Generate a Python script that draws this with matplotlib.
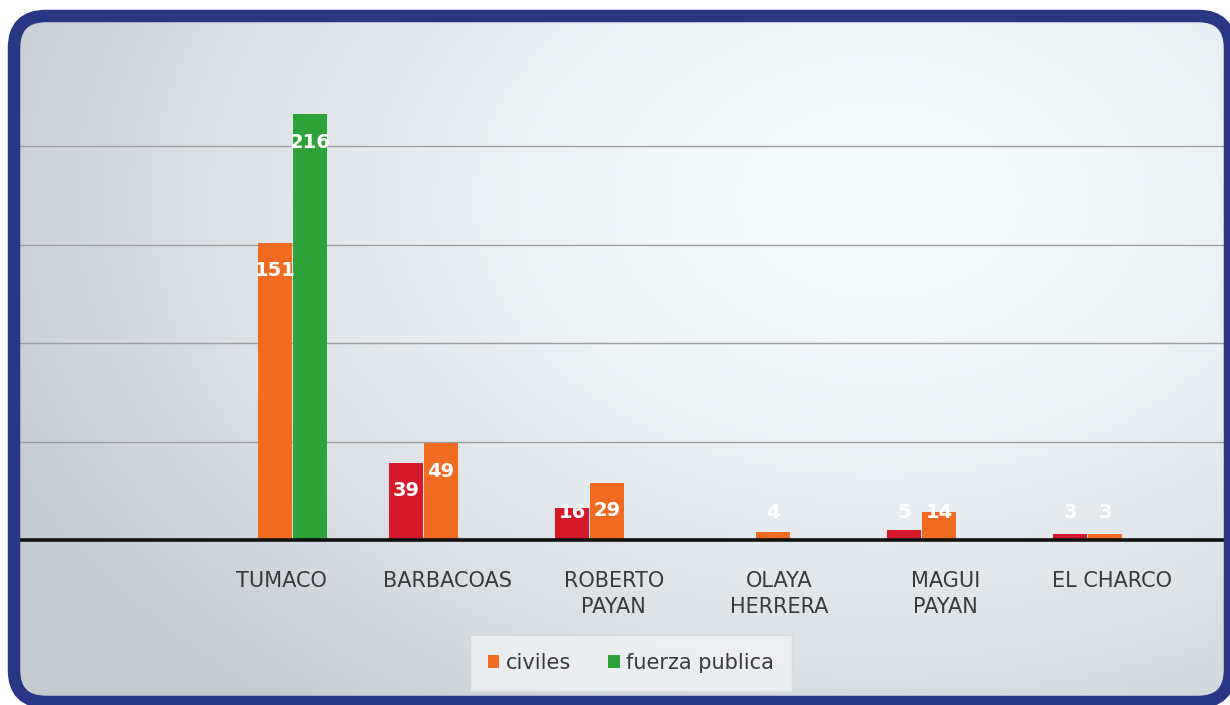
import numpy as np
import matplotlib
matplotlib.use("Agg")
import matplotlib.pyplot as plt
from matplotlib.patches import FancyBboxPatch, Patch

# datos
municipios = ["TUMACO", "BARBACOAS", "ROBERTO\nPAYAN", "OLAYA\nHERRERA", "MAGUI\nPAYAN", "EL CHARCO"]
serie_roja = [np.nan, 39, 16, np.nan, 5, 3]
civiles = [151, 49, 29, 4, 14, 3]
fuerza_publica = [216, np.nan, np.nan, np.nan, np.nan, np.nan]

ROJO = "#D5192B"
NARANJA = "#F06A22"
VERDE = "#2EA33A"
AZUL = "#283683"

W, H = 1230, 705
fig = plt.figure(figsize=(W / 100, H / 100), dpi=100)
fig.patch.set_facecolor("white")

# fondo con degradado
bg = fig.add_axes([0, 0, 1, 1], zorder=0)
bg.set_xlim(0, W)
bg.set_ylim(H, 0)
bg.axis("off")
xx, yy = np.meshgrid(np.linspace(0, W, 300), np.linspace(0, H, 200))
d = np.sqrt(((xx - 880) / 950) ** 2 + ((yy - 200) / 650) ** 2)
d = np.clip(d, 0, 1) ** 1.6
claro = np.array([0.965, 0.985, 0.997])
oscuro = np.array([0.775, 0.80, 0.82])
img = claro[None, None, :] * (1 - d[..., None]) + oscuro[None, None, :] * d[..., None]
marco_clip = FancyBboxPatch((14, 16), 1216, 686, boxstyle="round,pad=0,rounding_size=32",
                            facecolor="none", edgecolor="none")
bg.add_patch(marco_clip)
im = bg.imshow(img, extent=(0, W, H, 0), aspect="auto", interpolation="bilinear")
im.set_clip_path(marco_clip)

# grafico
px_per_grupo = 166
centro0 = 275
ax_left, ax_right = 20, 1225
y0_px, ytop_px = 540, 47.5
ax = fig.add_axes([ax_left / W, (H - y0_px) / H, (ax_right - ax_left) / W, (y0_px - ytop_px) / H], zorder=1)
ax.set_facecolor("none")
ax.set_xlim((ax_left - centro0) / px_per_grupo, (ax_right - centro0) / px_per_grupo)
ax.set_ylim(0, 250)

x = np.arange(len(municipios))
ancho = 35 / px_per_grupo
series = [(serie_roja, ROJO, -ancho), (civiles, NARANJA, 0), (fuerza_publica, VERDE, ancho)]
for valores, color, off in series:
    ax.bar(x + off, valores, width=ancho * 0.98, color=color, zorder=2)
    for xi, v in zip(x, valores):
        if np.isnan(v):
            continue
        ypos = max(v - 14, 14)
        ax.text(xi + off, ypos, f"{v:g}", ha="center", va="center", color="white",
                fontsize=14, fontweight="bold", zorder=3)

ax.set_yticks([50, 100, 150, 200])
ax.yaxis.grid(True, color="#9C9FA2", linewidth=1)
ax.set_axisbelow(True)
ax.tick_params(left=False, labelleft=False, bottom=False, pad=19)
# etiquetas un poco a la derecha, como en el original
ax.set_xticks(x + 0.04)
ax.set_xticklabels(municipios, fontsize=15, color="#3A3A3A", family="DejaVu Sans", linespacing=1.35)
for s in ["top", "left", "right"]:
    ax.spines[s].set_visible(False)
ax.spines["bottom"].set_linewidth(2.6)
ax.spines["bottom"].set_color("#111111")

handles = [Patch(facecolor=NARANJA, label="civiles"), Patch(facecolor=VERDE, label="fuerza publica")]
leg = fig.legend(handles=handles, loc="center", bbox_to_anchor=(631 / W, 1 - 663 / H), ncol=2,
                 frameon=True, fancybox=False, handlelength=0.55, handleheight=0.55,
                 handletextpad=0.3, columnspacing=1.8, borderpad=0.85,
                 prop={"family": "DejaVu Sans", "size": 15})
leg.get_frame().set_facecolor("#F1F3F5")
leg.get_frame().set_edgecolor("#D5D9DC")
leg.get_frame().set_linewidth(1)
for t in leg.get_texts():
    t.set_color("#3A3A3A")
leg.set_zorder(4)

# marco azul redondeado
top = fig.add_axes([0, 0, 1, 1], zorder=5)
top.set_xlim(0, W)
top.set_ylim(H, 0)
top.axis("off")
top.patch.set_alpha(0)
marco = FancyBboxPatch((14, 16), 1216, 686, boxstyle="round,pad=0,rounding_size=32",
                       facecolor="none", edgecolor=AZUL, linewidth=9)
top.add_patch(marco)

fig.savefig("out.png", dpi=100)
